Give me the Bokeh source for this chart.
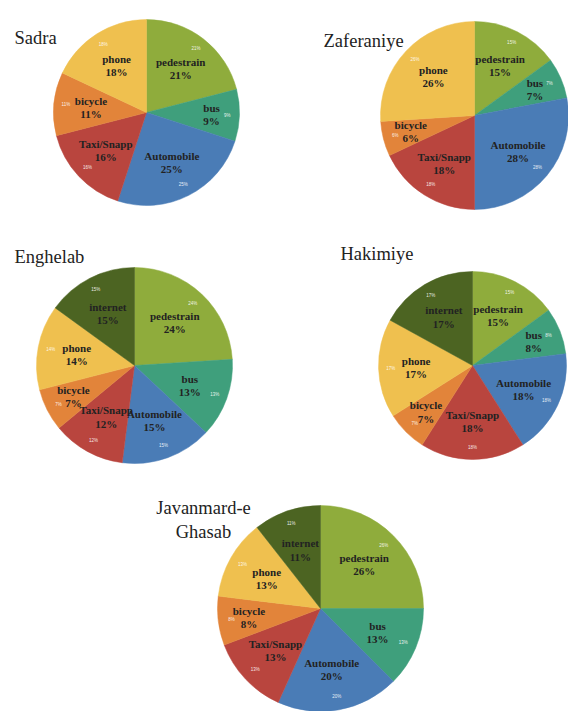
import numpy as np
from bokeh.plotting import figure
from bokeh.models import ColumnDataSource
from bokeh.core.properties import value
from bokeh.embed import file_html
from bokeh.resources import INLINE

# ---- data ----
categories = ["pedestrain", "bus", "Automobile", "Taxi/Snapp", "bicycle", "phone", "internet"]
colors = ["#8fac3c", "#3f9f7c", "#4a7cb6", "#b9453e", "#e2843a", "#efc04f", "#4c6422"]

sadra = [21, 9, 25, 16, 11, 18]
zaferaniye = [15, 7, 28, 18, 6, 26]
enghelab = [24, 13, 15, 12, 7, 14, 15]
hakimiye = [15, 8, 18, 18, 7, 17, 17]
javanmard = [26, 13, 20, 13, 8, 13, 11]

titles = ["Sadra", "Zaferaniye", "Enghelab", "Hakimiye", "Javanmard-e\nGhasab"]

W, H = 568, 711


def px(X):
    return X


def py(Y):
    return H - Y


p = figure(width=W, height=H, x_range=(0, W), y_range=(0, H),
           output_backend="svg", toolbar_location=None, min_border=0)
p.axis.visible = False
p.grid.visible = False
p.outline_line_color = None
p.background_fill_color = "white"

# layout: (center x, center y, radius, title x, title y, title align)
layouts = [
    (146, 112, 93, 14, 37, "left"),
    (474, 115, 94, 323, 40, "left"),
    (134, 365, 98, 14, 256, "left"),
    (472, 365, 94, 340, 253, "left"),
    (320, 608, 103, 203, 519, "center"),
]
series = [sadra, zaferaniye, enghelab, hakimiye, javanmard]

for vals, (cx, cy, r, tx, ty, talign), title in zip(series, layouts, titles):
    v = np.array(vals, dtype=float)
    n = len(v)
    ang = v / v.sum() * 2 * np.pi
    ends = np.pi / 2 - np.cumsum(ang)
    starts = ends + ang
    mid = (starts + ends) / 2
    X, Y = px(cx), py(cy)
    frac = v / v.sum()
    rl = np.where(frac < 0.1, 0.7, 0.6) * r
    src = ColumnDataSource(dict(
        start=ends, end=starts,
        color=colors[:n],
        lx=X + rl * np.cos(mid), ly=Y + rl * np.sin(mid),
        sx=X + 0.87 * r * np.cos(mid), sy=Y + 0.87 * r * np.sin(mid),
        lab=[f"{c}\n{int(a)}%" for c, a in zip(categories[:n], vals)],
        small=[f"{int(a)}%" for a in vals],
    ))
    p.wedge(x=X, y=Y, radius=r, start_angle="start", end_angle="end",
            direction="anticlock", fill_color="color", line_color="color",
            line_width=0.5, source=src)
    p.text(x="lx", y="ly", text="lab", source=src, text_align="center",
           text_baseline="middle", text_font=value("Liberation Serif"),
           text_font_size="11px", text_font_style="bold",
           text_color="#222222", text_line_height=1.1)
    p.text(x="sx", y="sy", text="small", source=src, text_align="center",
           text_baseline="middle", text_font=value("Liberation Sans"),
           text_font_size="4.5px", text_color="#ffffff", text_alpha=0.9)
    p.text(x=[px(tx)], y=[py(ty)], text=[title], text_align=talign,
           text_baseline="middle", text_font=value("Liberation Serif"),
           text_font_size="18.5px", text_color="#222222", text_line_height=1.2)

open("out.html", "w").write(file_html(p, INLINE))
